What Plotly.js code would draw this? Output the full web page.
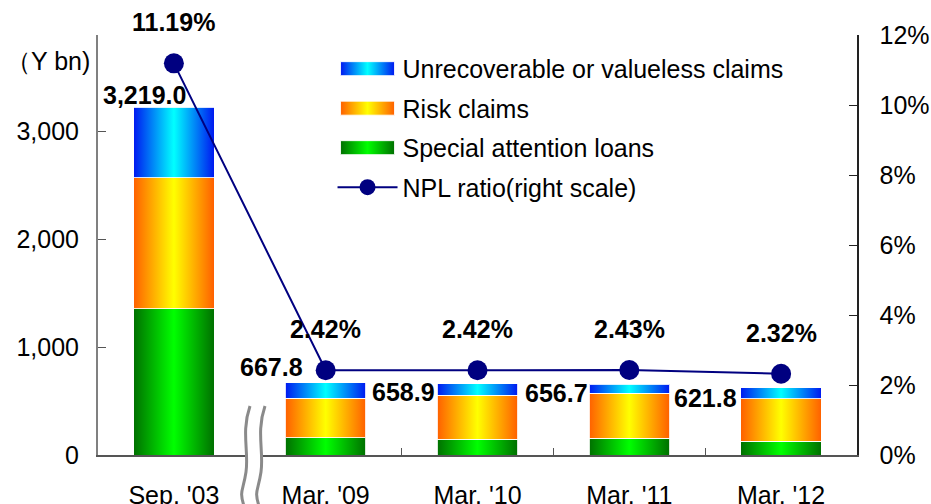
<!DOCTYPE html>
<html>
<head>
<meta charset="utf-8">
<script src="https://cdn.plot.ly/plotly-3.0.1.min.js"></script>
<style>
  html, body { margin: 0; padding: 0; background: #fff; }
  #chart { width: 931px; height: 504px; }
</style>
</head>
<body>
<div id="chart"></div>
<script>
// ---- data ----
const categories = ["Sep. '03", "Mar. '09", "Mar. '10", "Mar. '11", "Mar. '12"];
const specialAttention = [1352, 160, 145, 155, 127];
const riskClaims = [1213, 365, 410, 416, 394];
const unrecoverable = [654, 143, 104, 86, 101];
const totals = [3219.0, 667.8, 658.9, 656.7, 621.8];
const nplRatio = [11.19, 2.42, 2.42, 2.43, 2.32];
const seriesNames = ["Special attention loans", "Risk claims", "Unrecoverable or valueless claims", "NPL ratio(right scale)"];

// ---- label placement (style only) ----
const totalShiftX = [14, -21, -41, -39, -42];
const totalShiftY = [12, 16, -8, -9, -10];

const FONT = "Liberation Sans, Arial, sans-serif";
const FS = 25;
const barLine = { color: "rgba(255,255,255,0.85)", width: 1 };
const barWidth = 0.53;

const traces = [
  { type: "bar", name: seriesNames[0], x: categories, y: specialAttention, width: barWidth,
    marker: { color: "#00c000", line: barLine }, legendrank: 3, legendgroup: "g3", hoverinfo: "skip" },
  { type: "bar", name: seriesNames[1], x: categories, y: riskClaims, width: barWidth,
    marker: { color: "#ffb000", line: barLine }, legendrank: 2, legendgroup: "g2", hoverinfo: "skip" },
  { type: "bar", name: seriesNames[2], x: categories, y: unrecoverable, width: barWidth,
    marker: { color: "#00a0ff", line: barLine }, legendrank: 1, legendgroup: "g1", hoverinfo: "skip" },
  { type: "scatter", mode: "lines+markers", name: seriesNames[3], x: categories, y: nplRatio, yaxis: "y2",
    line: { color: "#000080", width: 2 }, marker: { color: "#000080", size: 20 },
    legendrank: 4, legendgroup: "g4", hoverinfo: "skip" }
];

const annotations = [];
categories.forEach((c, i) => {
  annotations.push({
    x: c, y: totals[i], xref: "x", yref: "y",
    text: totals[i].toLocaleString("en-US", { minimumFractionDigits: 1, maximumFractionDigits: 1 }),
    showarrow: false, xanchor: "right", yanchor: "middle",
    xshift: totalShiftX[i], yshift: totalShiftY[i],
    font: { family: FONT, size: FS, color: "#000", weight: "bold" }
  });
  annotations.push({
    x: c, y: nplRatio[i], xref: "x", yref: "y2",
    text: nplRatio[i].toFixed(2) + "%",
    showarrow: false, xanchor: "center", yanchor: "middle", yshift: 41,
    font: { family: FONT, size: FS, color: "#000", weight: "bold" }
  });
});
annotations.push({
  xref: "paper", yref: "paper", x: -0.008, y: 0.937, xanchor: "right", yanchor: "middle",
  text: "（Y bn)", showarrow: false, font: { family: FONT, size: FS, color: "#000" }
});

// axis-break marker (paper coordinates)
const px = v => (v - 98) / 759, py = v => (455 - v) / 420;
const L = [[250, 406], [241, 432], [249, 452], [246, 472], [239, 490], [244, 506]];
const R = [[265, 406], [256, 432], [264, 452], [261, 472], [254, 490], [259, 506]];
const wave = pts => `M${px(pts[0][0])},${py(pts[0][1])} C${px(pts[1][0])},${py(pts[1][1])} ${px(pts[2][0])},${py(pts[2][1])} ${px(pts[3][0])},${py(pts[3][1])} S${px(pts[4][0])},${py(pts[4][1])} ${px(pts[5][0])},${py(pts[5][1])}`;
const waveRev = pts => `L${px(pts[5][0])},${py(pts[5][1])} C${px(pts[4][0])},${py(pts[4][1])} ${px(pts[3][0])},${py(pts[3][1] + 10)} ${px(pts[3][0])},${py(pts[3][1])} C${px(pts[2][0])},${py(pts[2][1])} ${px(pts[1][0])},${py(pts[1][1])} ${px(pts[0][0])},${py(pts[0][1])} Z`;
const shapes = [
  { type: "path", xref: "paper", yref: "paper", path: wave(L) + " " + waveRev(R), fillcolor: "#fff", line: { width: 0 }, layer: "above" },
  { type: "path", xref: "paper", yref: "paper", path: wave(L), line: { color: "#8a8a8a", width: 3 }, layer: "above" },
  { type: "path", xref: "paper", yref: "paper", path: wave(R), line: { color: "#8a8a8a", width: 3 }, layer: "above" }
];

const layout = {
  width: 931, height: 504,
  margin: { l: 98, r: 74, t: 35, b: 49 },
  paper_bgcolor: "#fff", plot_bgcolor: "#fff",
  barmode: "stack",
  showlegend: true,
  font: { family: FONT, size: FS, color: "#000" },
  legend: {
    x: 0.309, y: 0.974, xanchor: "left", yanchor: "top",
    traceorder: "grouped", tracegroupgap: 4, itemwidth: 60,
    font: { family: FONT, size: FS, color: "#000" },
    bgcolor: "rgba(0,0,0,0)"
  },
  xaxis: {
    type: "category", showgrid: false, zeroline: false,
    showline: true, linecolor: "#555", linewidth: 1.5,
    ticks: "inside", tickson: "boundaries", ticklen: 7, tickcolor: "#555",
    ticklabelstandoff: 17,
    tickfont: { family: FONT, size: FS, color: "#000" }
  },
  yaxis: {
    range: [0, 3889], tickvals: [0, 1000, 2000, 3000], tickformat: ",",
    showgrid: false, zeroline: false, showline: true, linecolor: "#808080", linewidth: 2,
    ticks: "inside", ticklen: 8, tickcolor: "#555", ticklabelstandoff: 12,
    tickfont: { family: FONT, size: FS, color: "#000" }
  },
  yaxis2: {
    overlaying: "y", side: "right", range: [0, 12], dtick: 2, ticksuffix: "%",
    showgrid: false, zeroline: false, showline: true, linecolor: "#222", linewidth: 1.5,
    ticks: "inside", ticklen: 8, tickcolor: "#222", ticklabelstandoff: 16,
    tickfont: { family: FONT, size: FS, color: "#000" }
  },
  annotations: annotations,
  shapes: shapes
};

const gd = document.getElementById("chart");
Plotly.newPlot(gd, traces, layout, { staticPlot: true, displayModeBar: false }).then(() => {
  const svg = gd.querySelector(".main-svg");
  const NS = "http://www.w3.org/2000/svg";
  let defs = svg.querySelector("defs");
  if (!defs) { defs = document.createElementNS(NS, "defs"); svg.insertBefore(defs, svg.firstChild); }
  const grads = {
    gGreen: ["#007000", "#00ff00", "#007000"],
    gOrange: ["#ff6000", "#ffff00", "#ff6000"],
    gBlue: ["#0018f0", "#00ffff", "#0018f0"]
  };
  Object.keys(grads).forEach(id => {
    const lg = document.createElementNS(NS, "linearGradient");
    lg.setAttribute("id", id);
    lg.setAttribute("x1", "0"); lg.setAttribute("y1", "0");
    lg.setAttribute("x2", "1"); lg.setAttribute("y2", "0");
    grads[id].forEach((c, k) => {
      const st = document.createElementNS(NS, "stop");
      st.setAttribute("offset", (k * 50) + "%");
      st.setAttribute("stop-color", c);
      lg.appendChild(st);
    });
    defs.appendChild(lg);
  });
  const gradByName = {};
  gradByName[seriesNames[0]] = "gGreen";
  gradByName[seriesNames[1]] = "gOrange";
  gradByName[seriesNames[2]] = "gBlue";
  const ids = ["gGreen", "gOrange", "gBlue"];
  gd.querySelectorAll(".barlayer .trace").forEach((t, i) => {
    t.querySelectorAll("path").forEach(p => { p.style.fill = "url(#" + ids[i] + ")"; p.style.fillOpacity = 1; });
  });
  gd.querySelectorAll(".legend .traces").forEach(tr => {
    const name = tr.querySelector(".legendtext").textContent;
    const g = gradByName[name];
    if (g) {
      tr.querySelectorAll(".legendpoints path").forEach(p => {
        p.setAttribute("d", "M27,7H-27V-7H27Z");
        p.style.fill = "url(#" + g + ")";
        p.style.fillOpacity = 1;
      });
    }
  });
});
</script>
</body>
</html>
